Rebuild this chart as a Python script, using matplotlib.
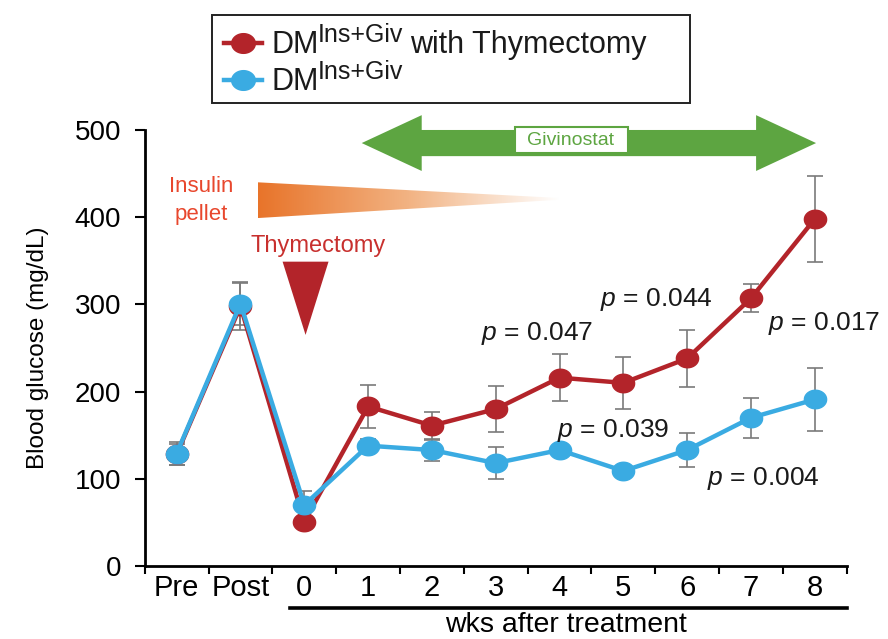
import matplotlib
matplotlib.use("Agg")
import matplotlib.pyplot as plt
import numpy as np
from matplotlib.colors import LinearSegmentedColormap
from matplotlib.lines import Line2D
from matplotlib.patches import Polygon, Rectangle
from matplotlib.path import Path
import matplotlib.transforms as mtransforms

plt.rcParams["font.family"] = ["Liberation Sans", "DejaVu Sans"]
plt.rcParams["mathtext.fontset"] = "custom"
plt.rcParams["mathtext.rm"] = "Liberation Sans"
plt.rcParams["mathtext.it"] = "Liberation Sans:italic"

# ---- data ----
categories = ["Pre", "Post", "0", "1", "2", "3", "4", "5", "6", "7", "8"]
thymectomy_mean = [128, 298, 51, 183, 161, 180, 216, 210, 238, 307, 398]
thymectomy_sem = [12, 27, 5, 25, 16, 26, 27, 30, 33, 16, 49]
control_mean = [129, 301, 70, 138, 133, 118, 133, 109, 133, 170, 191]
control_sem = [13, 25, 16, 8, 13, 18, 5, 5, 20, 23, 36]
y_ticks = [0, 100, 200, 300, 400, 500]

p_labels = ["0.047", "0.044", "0.017", "0.039", "0.004"]
p_x = [5.64, 7.52, 10.14, 6.84, 9.19]
p_y = [267, 306, 278, 155, 100]

RED = "#B3242A"
BLUE = "#3AABE2"
GREEN = "#5DA541"
GRAY = "#7a7a7a"

W, H = 888, 639


def fx(px):
    return px / W


def fy(py):
    return 1 - py / H


# slightly wide oval marker, as in the original
t = np.linspace(0, 2 * np.pi, 64)
oval = Path(np.column_stack([1.2 * np.cos(t), np.sin(t)]), closed=True)

fig = plt.figure(figsize=(8.88, 6.39), dpi=100)
ax = fig.add_axes([0.163, 0.1142, 0.7905, 0.6824])

x = np.arange(len(categories))

# error bars behind the lines
for mean, sem in [(thymectomy_mean, thymectomy_sem), (control_mean, control_sem)]:
    ax.errorbar(x, mean, yerr=sem, fmt="none", ecolor=GRAY, elinewidth=1.2,
                capsize=6, capthick=1.2, zorder=2)

ax.plot(x, thymectomy_mean, color=RED, lw=3.2, marker=oval, ms=16, zorder=3)
ax.plot(x, control_mean, color=BLUE, lw=3.2, marker=oval, ms=16, zorder=4)

# p-values
for lab, px, py in zip(p_labels, p_x, p_y):
    ax.text(px, py, r"$p$ = " + lab, fontsize=19, ha="center", va="center",
            color="#1a1a1a", zorder=5)

# green Givinostat double arrow
gx0, gx1, gy = 2.90, 10.02, 485
shaft, head, head_len = 15, 32, 0.94
arrow_pts = [
    (gx0, gy), (gx0 + head_len, gy + head), (gx0 + head_len, gy + shaft),
    (gx1 - head_len, gy + shaft), (gx1 - head_len, gy + head), (gx1, gy),
    (gx1 - head_len, gy - head), (gx1 - head_len, gy - shaft),
    (gx0 + head_len, gy - shaft), (gx0 + head_len, gy - head),
]
ax.add_patch(Polygon(arrow_pts, closed=True, fc=GREEN, ec="none",
                     clip_on=False, zorder=5))
ax.add_patch(Rectangle((5.30, 474), 1.77, 29, fc="white", ec=GREEN, lw=1.5,
                       clip_on=False, zorder=6))
ax.text(6.18, 488.5, "Givinostat", fontsize=14, color=GREEN, ha="center",
        va="center", zorder=7)

# insulin pellet gradient wedge
wedge = Polygon([(1.27, 440), (6.0, 422), (6.0, 420), (1.27, 399)],
                closed=True, fc="none", ec="none")
ax.add_patch(wedge)
cmap = LinearSegmentedColormap.from_list("fade", ["#E8742A", "#F2B383", "#ffffff"])
grad = np.linspace(0, 1, 256).reshape(1, -1)
img = ax.imshow(grad, cmap=cmap, extent=[1.27, 6.0, 399, 440], aspect="auto",
                zorder=2, interpolation="bilinear")
img.set_clip_path(wedge)
ax.text(0.39, 429, "Insulin", fontsize=16, color="#E8472D", ha="center",
        va="baseline")
ax.text(0.39, 397, "pellet", fontsize=16, color="#E8472D", ha="center",
        va="baseline")

# thymectomy marker
ax.text(2.21, 360, "Thymectomy", fontsize=17, color="#C8302E", ha="center",
        va="baseline")
ax.add_patch(Polygon([(1.66, 349), (2.38, 349), (2.02, 265)], closed=True,
                     fc=RED, ec="none", zorder=5))

# axes styling
ax.set_xlim(-0.5, len(categories) - 0.5)
ax.set_ylim(0, 500)
ax.set_yticks(y_ticks)
ax.set_yticklabels([str(v) for v in y_ticks], fontsize=20)
ax.set_xticks(np.arange(-0.5, len(categories), 1.0))
ax.set_xticklabels([])
ax.set_xticks(x, minor=True)
ax.set_xticklabels(categories, minor=True, fontsize=21)
ax.tick_params(axis="x", which="minor", length=0, pad=6)
ax.tick_params(axis="x", which="major", length=6, width=1.5, direction="out")
ax.tick_params(axis="y", length=7, width=1.5, direction="out", pad=10)
for side in ["top", "right"]:
    ax.spines[side].set_visible(False)
for side in ["left", "bottom"]:
    ax.spines[side].set_linewidth(2)
ax.set_ylabel("Blood glucose (mg/dL)", fontsize=17.5)
ax.yaxis.set_label_coords(-0.137, 0.5)

# weeks underline and label
trans = mtransforms.blended_transform_factory(ax.transData, ax.transAxes)
ax.add_line(Line2D([1.77, 10.5], [-0.096, -0.096], color="black", lw=2.6,
                   transform=trans, clip_on=False))
ax.text(6.1, -0.136, "wks after treatment", fontsize=20.5, ha="center",
        va="center", transform=trans)

# legend box drawn by hand so the superscript can be sized like the original
fig.add_artist(Rectangle((fx(212), fy(103)), fx(690) - fx(212), fy(15) - fy(103),
                         transform=fig.transFigure, fc="white", ec="#222222",
                         lw=1.4))
rows = [(RED, 43, 53, 42, "with Thymectomy"), (BLUE, 80, 90, 79, "")]
for color, yc, base, sup_base, tail in rows:
    fig.add_artist(Line2D([fx(224), fx(243), fx(262)], [fy(yc)] * 3,
                          transform=fig.transFigure, color=color, lw=3.2,
                          marker=oval, ms=17, markevery=[1]))
    fig.text(fx(272), fy(base), "DM", fontsize=22, va="baseline", ha="left",
             color="#1a1a1a")
    fig.text(fx(318), fy(sup_base), "Ins+Giv", fontsize=18, va="baseline",
             ha="left", color="#1a1a1a")
    if tail:
        fig.text(fx(410), fy(base), tail, fontsize=22, va="baseline",
                 ha="left", color="#1a1a1a")

fig.savefig("out.png", dpi=100)
